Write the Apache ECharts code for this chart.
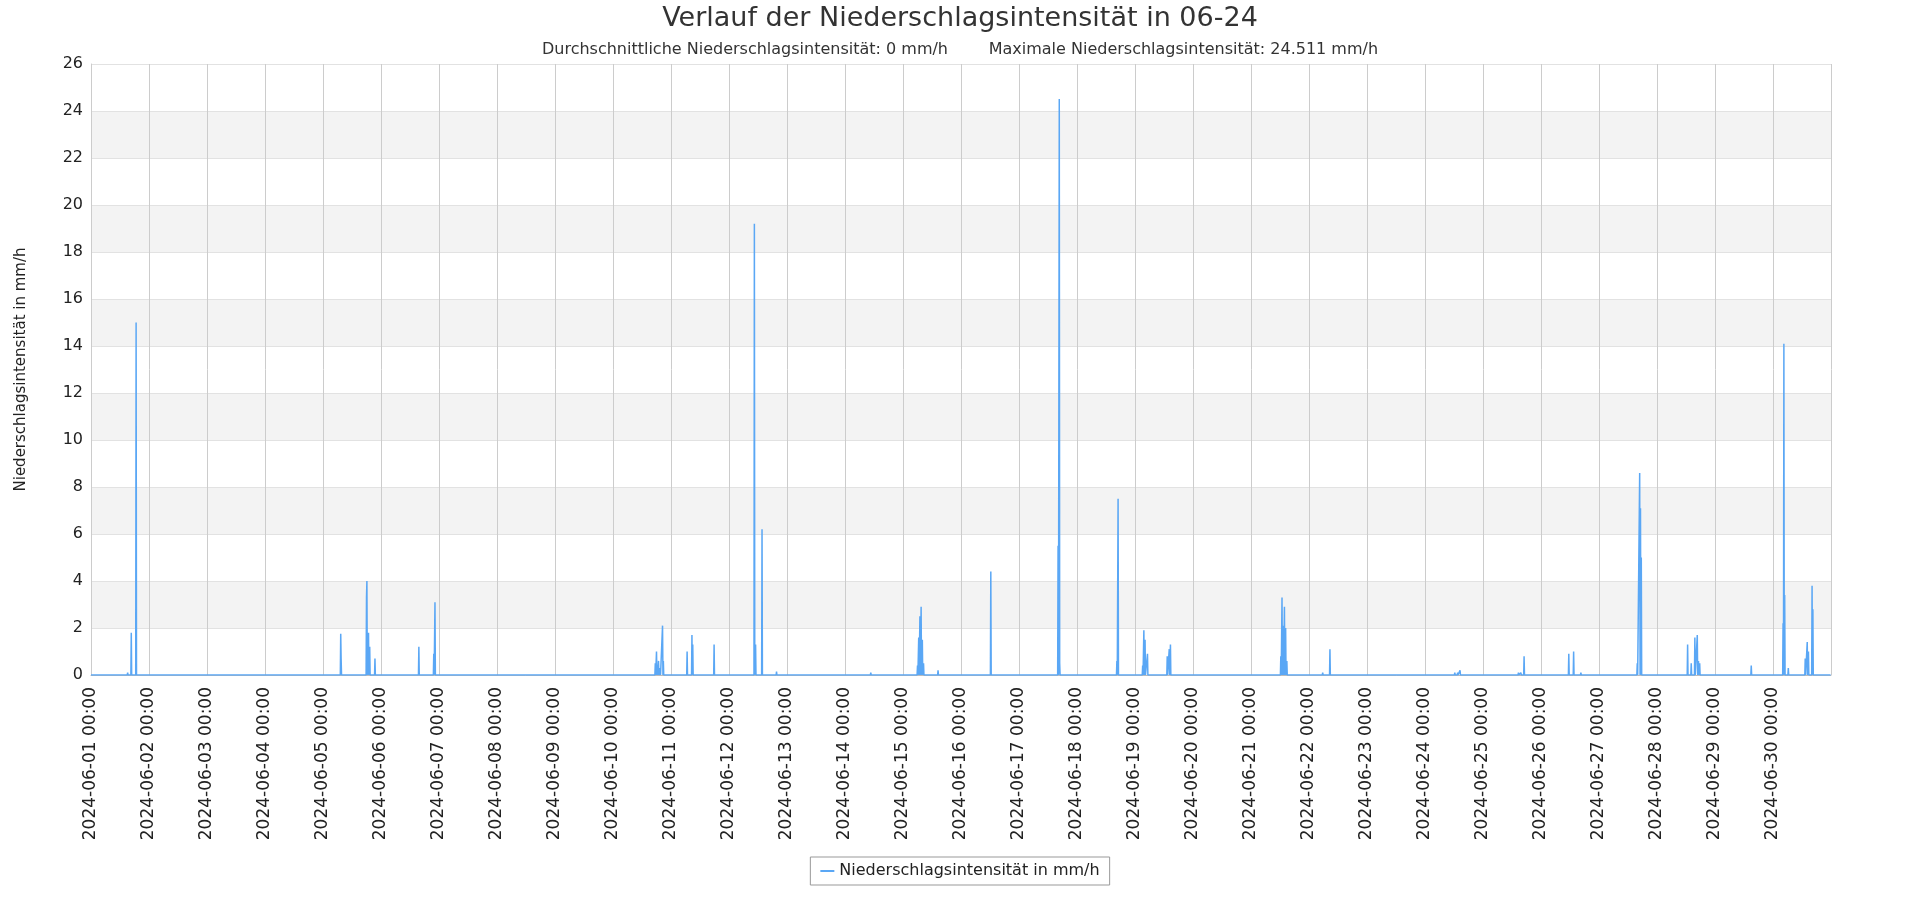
<!DOCTYPE html>
<html><head><meta charset="utf-8">
<script src="https://cdn.jsdelivr.net/npm/echarts@6/dist/echarts.min.js"></script>
<style>html,body{margin:0;padding:0;background:#fff}#c{width:1920px;height:900px}</style>
</head><body><div id="c"></div>
<script>
const titleText = 'Verlauf der Niederschlagsintensität in 06-24';
const subtitleText = 'Durchschnittliche Niederschlagsintensität: 0 mm/h        Maximale Niederschlagsintensität: 24.511 mm/h';
const seriesName = 'Niederschlagsintensität in mm/h';
const yTicks = [0,2,4,6,8,10,12,14,16,18,20,22,24,26];
// rain events (time, mm/h); all other times 0
const eventTimes = [
'06-01 15:10','06-01 16:40','06-01 18:40',
'06-05 07:20','06-05 07:30','06-05 18:00','06-05 18:10','06-05 18:30','06-05 18:50','06-05 19:20','06-05 21:30',
'06-06 15:40','06-06 21:50','06-06 22:20',
'06-10 17:30','06-10 18:00','06-10 18:20','06-10 18:50','06-10 19:30','06-10 20:30','06-10 20:50',
'06-11 06:40','06-11 08:40','06-11 09:00','06-11 17:50',
'06-12 10:30','06-12 11:00','06-12 13:40','06-12 19:40',
'06-14 10:40',
'06-15 06:00','06-15 06:30','06-15 07:00','06-15 07:30','06-15 08:00','06-15 08:30','06-15 14:30',
'06-16 12:20',
'06-17 16:10','06-17 16:40','06-17 16:50',
'06-18 16:30','06-18 17:00',
'06-19 03:10','06-19 03:40','06-19 04:10','06-19 05:10','06-19 13:20','06-19 14:10','06-19 14:40',
'06-21 12:20','06-21 12:50','06-21 13:20','06-21 13:50','06-21 14:20','06-21 14:50',
'06-22 05:40','06-22 08:40',
'06-24 12:20','06-24 13:30','06-24 14:30',
'06-25 14:40','06-25 15:40','06-25 17:00',
'06-26 11:30','06-26 13:30','06-26 16:30',
'06-27 15:50','06-27 16:50','06-27 17:10','06-27 17:30',
'06-28 12:40','06-28 14:10','06-28 15:40','06-28 16:40','06-28 17:10','06-28 17:40',
'06-29 15:00',
'06-30 04:10','06-30 04:30','06-30 04:50','06-30 06:20','06-30 13:20','06-30 14:10','06-30 14:40','06-30 16:10','06-30 16:30'
];
const eventValues = [
0.1,1.8,15.0,
1.75,0.7,3.3,4.0,1.8,1.8,1.2,0.7,
1.2,0.9,3.1,
0.5,1.0,0.3,0.6,0.3,2.1,0.6,
1.0,1.7,1.3,1.3,
19.2,1.3,6.2,0.15,
0.1,
0.4,1.6,2.5,2.9,1.5,0.5,0.2,
4.4,
5.5,24.511,0.5,
0.6,7.5,
0.4,1.9,1.5,0.9,0.8,1.1,1.3,
0.8,3.3,2.1,2.9,2.0,0.6,
0.1,1.1,
0.1,0.1,0.2,
0.1,0.1,0.8,
0.9,1.0,0.1,
0.5,8.6,7.1,5.0,
1.3,0.5,1.6,1.7,0.6,0.5,
0.4,
2.2,14.1,3.4,0.3,0.7,1.4,1.0,3.8,2.8
];
const startTime = '2024-06-01 00:00';
const endTime = '2024-07-01 00:00';

const toMs = s => new Date(s.replace(' ', 'T') + ':00Z').getTime();
const STEP = 600000;
const DAY = 86400000;
const data = [[toMs(startTime), 0]];
eventTimes.forEach((t, i) => {
  const ms = toMs('2024-' + t);
  const last = data[data.length - 1];
  if (last[0] < ms - STEP) data.push([ms - STEP, 0]);
  data.push([ms, eventValues[i]]);
  data.push([ms + STEP, 0]);
});
const clean = [];
data.forEach(p => {
  const l = clean[clean.length - 1];
  if (l && l[0] === p[0]) { if (p[1] > 0) clean[clean.length - 1] = p; }
  else clean.push(p);
});
clean.push([toMs(endTime) - STEP, 0]);

const pad = n => String(n).padStart(2, '0');
const chart = echarts.init(document.getElementById('c'));
chart.setOption({
  animation: false,
  textStyle: { fontFamily: 'DejaVu Sans' },
  title: [
    { text: titleText, left: 'center', top: 0, textStyle: { fontSize: 27, fontWeight: 'normal', color: '#333' } },
    { text: subtitleText, left: 'center', top: 37, textStyle: { fontSize: 16, fontWeight: 'normal', color: '#333' } }
  ],
  legend: {
    bottom: 15, left: 'center', data: [seriesName], borderColor: '#999', borderWidth: 1, padding: [6, 10],
    itemWidth: 14, itemHeight: 2, icon: 'rect', textStyle: { fontSize: 16, color: '#222' }
  },
  grid: { left: 91, right: 89, top: 64, bottom: 225 },
  xAxis: {
    type: 'time', min: toMs(startTime), max: toMs(endTime), interval: DAY, minInterval: DAY, maxInterval: DAY,
    axisLine: { lineStyle: { color: '#bbb' } }, axisTick: { show: false },
    splitLine: { show: true, lineStyle: { color: '#ccc' } },
    axisLabel: {
      rotate: 90, fontSize: 17, color: '#222', margin: 12, showMaxLabel: false, hideOverlap: false, interval: 0,
      formatter: v => { const d = new Date(v); if (d.getUTCMonth() !== 5) return ''; return '2024-06-' + pad(d.getUTCDate()) + ' 00:00'; }
    }
  },
  yAxis: {
    type: 'value', min: 0, max: 26, interval: 2,
    name: 'Niederschlagsintensität in mm/h', nameLocation: 'middle', nameGap: 62,
    nameTextStyle: { fontSize: 15, color: '#222' },
    axisLine: { show: true, lineStyle: { color: '#ccc' } }, axisTick: { show: false },
    axisLabel: { fontSize: 16, color: '#222' },
    splitLine: { lineStyle: { color: '#e2e2e2' } },
    splitArea: { show: true, areaStyle: { color: ['#ffffff', '#f3f3f3'] } }
  },
  series: [{
    name: seriesName, type: 'line', data: clean, showSymbol: false, symbol: 'none',
    lineStyle: { width: 1.5, color: '#5aa7f5' }, itemStyle: { color: '#5aa7f5' }
  }]
});
</script></body></html>
